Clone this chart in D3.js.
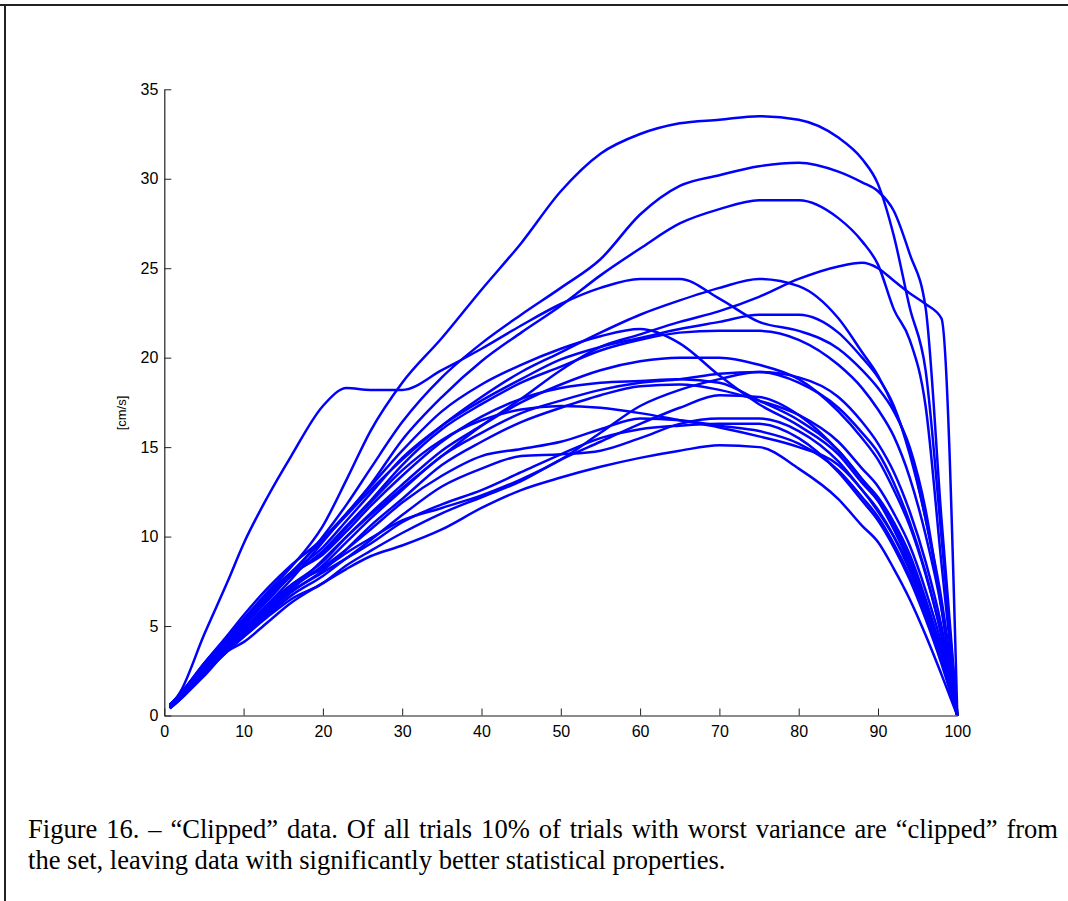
<!DOCTYPE html>
<html>
<head>
<meta charset="utf-8">
<script src="https://cdn.jsdelivr.net/npm/d3@7"></script>
<style>
  html, body { margin: 0; padding: 0; background: #fff; }
  svg { display: block; }
</style>
</head>
<body>
<svg id="chart" width="1068" height="901"></svg>
<script>
// ---- data: normalised time (% of movement) and speed [cm/s] per trial ----
const timePct = [0.7, 2, 5, 8, 10, 13, 16, 20, 23, 26, 30, 35, 40, 45, 50, 55, 60, 65, 70, 75, 80, 85, 88, 90, 92, 94, 96, 98, 100];

const trial01 = [0.6,1.2,2.9,4.4,5.4,6.9,8.3,10.6,13.2,15.9,18.6,21.1,23.8,26.4,29.3,31.4,32.5,33.1,33.3,33.5,33.3,32.3,31.1,29.7,26.8,22.8,19.3,10.0,0];
const trial02 = [0.5,1.1,2.7,4.1,5.0,6.5,7.9,10.0,11.8,13.8,16.4,18.9,20.8,22.4,23.9,25.5,28.0,29.6,30.2,30.7,30.9,30.4,29.8,29.3,28.2,25.8,22.8,11.0,0];
const trial03 = [0.5,1.0,2.6,4.0,4.8,6.2,7.6,9.7,11.3,12.9,15.4,17.8,19.8,21.4,22.9,24.6,26.1,27.5,28.3,28.8,28.8,27.8,26.5,25.2,22.7,21.0,17.3,8.5,0];
const trial04 = [0.5,1.3,4.5,7.5,9.6,12.2,14.5,17.3,18.3,18.2,18.2,19.3,20.5,21.8,23.0,23.9,24.4,24.4,23.3,22.0,21.5,20.5,19.3,18.3,17.0,15.0,11.5,6.0,0];
const trial05 = [0.5,1.1,2.8,4.2,5.2,6.7,8.0,9.8,11.2,12.6,14.3,16.2,17.8,19.2,20.3,21.4,22.4,23.2,23.9,24.4,24.0,22.2,20.3,19.0,17.2,14.8,11.0,6.2,0];
const trial06 = [0.5,1.0,2.5,3.8,4.6,5.8,7.0,8.7,10.0,11.2,12.7,14.5,16.2,17.7,19.3,20.6,21.3,22.0,22.6,23.4,24.4,25.1,25.3,25.0,24.3,23.6,23.0,22.2,0];
const trial07 = [0.6,1.2,2.8,4.3,5.3,6.8,8.0,9.4,10.9,12.4,14.4,16.2,17.6,18.8,19.9,20.6,21.1,21.6,22.0,22.4,22.4,21.4,20.0,18.9,17.3,14.6,11.0,6.5,0];
const trial08 = [0.5,1.1,2.6,4.0,5.0,6.5,7.8,9.2,10.6,12.0,14.0,16.0,17.4,18.6,19.5,20.4,21.0,21.4,21.5,21.5,21.0,19.6,18.3,17.1,15.6,13.3,10.1,6.0,0];
const trial09 = [0.6,1.2,2.9,4.5,5.6,7.1,8.4,9.9,11.3,12.8,14.8,17.0,18.5,19.6,20.5,21.2,21.6,20.8,19.0,17.4,16.2,14.6,13.0,12.0,10.6,8.7,6.3,3.5,0];
const trial10 = [0.5,1.0,2.5,3.9,4.8,6.2,7.3,8.6,10.0,11.3,12.9,14.8,16.2,17.5,18.5,19.3,19.8,20.0,20.0,19.6,18.8,17.0,15.5,14.3,12.6,10.6,7.9,4.5,0];
const trial11 = [0.5,1.0,2.4,3.8,4.6,5.9,7.1,8.4,9.7,11.0,12.6,14.5,15.8,16.9,17.6,18.2,18.6,18.8,19.1,19.2,18.6,17.2,15.8,14.7,13.0,10.8,8.0,4.5,0];
const trial12 = [0.6,1.1,2.7,4.1,5.1,6.6,7.9,9.0,10.3,11.7,13.4,15.3,16.7,17.7,18.3,18.6,18.7,18.8,18.6,17.6,16.5,14.8,13.2,12.2,10.8,9.0,6.5,3.6,0];
const trial13 = [0.4,0.9,2.3,3.7,4.5,5.7,6.9,8.1,9.3,10.6,12.1,14.0,15.3,16.4,17.2,17.9,18.4,18.5,18.2,17.6,16.8,15.3,13.8,12.8,11.3,9.5,7.0,4.0,0];
const trial14 = [0.5,1.1,2.6,4.0,5.0,6.4,7.8,9.1,10.5,11.9,13.7,15.4,16.5,17.1,17.3,17.2,16.9,16.5,16.1,15.6,15.0,14.0,12.6,11.4,10.0,8.3,6.0,3.4,0];
const trial15 = [0.5,1.0,2.5,3.8,4.7,6.0,7.2,8.3,9.3,10.4,11.9,13.4,14.5,14.9,15.3,16.0,16.6,16.5,16.2,15.9,15.2,13.7,12.2,11.1,9.6,7.8,5.6,3.1,0];
const trial16 = [0.4,0.9,2.3,3.6,4.4,5.6,6.7,7.8,8.8,9.8,11.2,12.8,13.8,14.5,14.6,14.8,15.5,16.3,16.6,16.6,15.9,14.2,12.6,11.5,10.0,8.1,5.8,3.2,0];
const trial17 = [0.5,1.0,2.4,3.7,4.5,5.7,6.9,8.0,8.8,9.6,10.8,11.8,12.6,13.6,14.6,15.5,16.0,16.2,16.3,16.3,15.5,13.6,12.0,10.9,9.4,7.6,5.4,2.9,0];
const trial18 = [0.4,0.9,2.2,3.6,4.1,5.2,6.3,7.4,8.2,8.9,9.5,10.4,11.6,12.6,13.3,13.9,14.4,14.8,15.1,15.0,13.8,12.1,10.6,9.7,8.2,6.5,4.5,2.3,0];
const trial19 = [0.4,0.9,2.3,3.7,4.4,5.5,6.5,7.4,8.4,9.2,10.2,11.3,12.2,13.1,14.3,15.3,16.3,17.2,17.9,17.8,16.8,14.8,13.2,12.0,10.4,8.5,6.2,3.5,0];
const trial20 = [0.5,1.0,2.5,3.9,4.8,6.1,7.3,8.2,9.1,9.9,10.9,11.6,12.3,13.2,14.3,15.8,17.3,18.2,18.8,19.2,18.9,17.8,16.4,15.2,13.6,11.4,8.6,5.0,0];

const trials = [trial01, trial02, trial03, trial04, trial05, trial06, trial07, trial08, trial09, trial10,
                trial11, trial12, trial13, trial14, trial15, trial16, trial17, trial18, trial19, trial20];

const xTicks = [0, 10, 20, 30, 40, 50, 60, 70, 80, 90, 100];
const yTicks = [0, 5, 10, 15, 20, 25, 30, 35];
const yLabel = "[cm/s]";
const captionLine1 = "Figure 16. \u2013 \u201cClipped\u201d data. Of all trials 10% of trials with worst variance are \u201cclipped\u201d from";
const captionLine2 = "the set, leaving data with significantly better statistical properties.";

// ---- drawing ----
const svg = d3.select("#chart");
svg.append("rect").attr("width", 1068).attr("height", 901).attr("fill", "#fff");

// page frame (top and left rules)
svg.append("line").attr("x1", 0).attr("x2", 1068).attr("y1", 5).attr("y2", 5)
  .attr("stroke", "#222").attr("stroke-width", 2);
svg.append("line").attr("x1", 5).attr("x2", 5).attr("y1", 4).attr("y2", 901)
  .attr("stroke", "#222").attr("stroke-width", 2);

const x = d3.scaleLinear().domain([0, 100]).range([164.3, 957.3]);
const y = d3.scaleLinear().domain([0, 35]).range([715.5, 89.3]);

const line = d3.line()
  .x((d, i) => x(timePct[i]))
  .y(d => y(d))
  .curve(d3.curveMonotoneX);

svg.append("g").selectAll("path").data(trials).join("path")
  .attr("d", line)
  .attr("fill", "none")
  .attr("stroke", "#0000ff")
  .attr("stroke-width", 2.5)
  .attr("stroke-linejoin", "round");

const fontAxis = "'Liberation Sans', Arial, Helvetica, sans-serif";

const xAxis = svg.append("g").attr("transform", `translate(0,${y(0)})`)
  .call(d3.axisBottom(x).tickValues(xTicks).tickFormat(d3.format("d"))
    .tickSizeInner(-7).tickSizeOuter(0).tickPadding(10.5));
xAxis.select(".domain").attr("stroke", "#666").attr("stroke-width", 1.6);
xAxis.selectAll(".tick line").attr("stroke", "#222");
xAxis.selectAll("text").attr("font-family", fontAxis).attr("font-size", 16).attr("fill", "#000");

const yAxis = svg.append("g").attr("transform", `translate(${x(0)},0)`)
  .call(d3.axisLeft(y).tickValues(yTicks).tickFormat(d3.format("d"))
    .tickSizeInner(-7).tickSizeOuter(0).tickPadding(6));
yAxis.select(".domain").attr("stroke", "#222").attr("stroke-width", 1.2);
yAxis.selectAll(".tick line").attr("stroke", "#222");
yAxis.selectAll("text").attr("font-family", fontAxis).attr("font-size", 16).attr("fill", "#000");

svg.append("text")
  .attr("transform", "translate(126,413) rotate(-90)")
  .attr("text-anchor", "middle")
  .attr("font-family", fontAxis).attr("font-size", 13)
  .text(yLabel);

// caption (justified first line)
const fontCap = "'Liberation Serif', 'Times New Roman', Times, serif";
const cap2 = svg.append("text").attr("x", 28).attr("y", 869)
  .attr("font-family", fontCap).attr("font-size", 22).text(captionLine2);
const w2 = cap2.node().getComputedTextLength();
const capSize = 22 * 698 / w2;
cap2.attr("font-size", capSize);

const cap1 = svg.append("text").attr("x", 28).attr("y", 838)
  .attr("font-family", fontCap).attr("font-size", capSize).text(captionLine1);
const w1 = cap1.node().getComputedTextLength();
const nSpaces = captionLine1.split(" ").length - 1;
cap1.attr("word-spacing", (1030 - w1) / nSpaces);
</script>
</body>
</html>
